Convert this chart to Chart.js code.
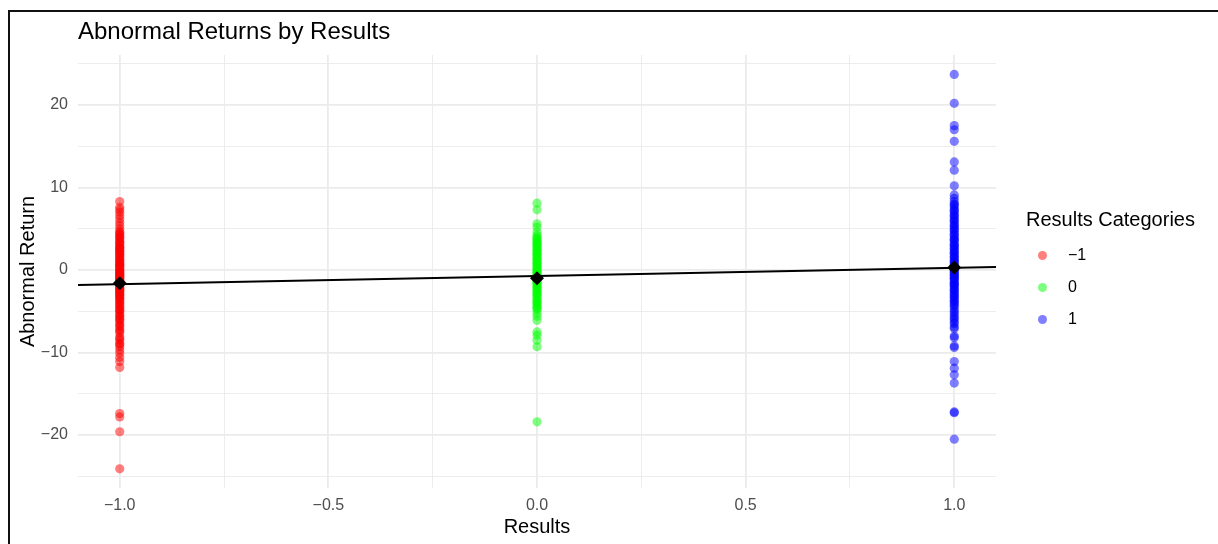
<!DOCTYPE html>
<html>
<head>
<meta charset="utf-8">
<script src="https://cdn.jsdelivr.net/npm/chart.js@4.4.1/dist/chart.umd.min.js"></script>
<style>
  html, body { margin: 0; padding: 0; background: #fff; }
  body { width: 1218px; height: 544px; position: relative; overflow: hidden;
         font-family: "Liberation Sans", Arial, Helvetica, sans-serif; }
  #frame { position: absolute; left: 8px; top: 10px; width: 1400px; height: 800px;
           border-top: 2px solid #111; border-left: 2px solid #111; }
  #chart { position: absolute; left: 0; top: 0; }
  #title { position: absolute; left: 78px; top: 19px; font-size: 24px; line-height: 24px;
           color: #000; white-space: nowrap; }
  #legend { position: absolute; left: 0; top: 0; }
  .leg-title { position: absolute; left: 1026px; top: 209px; font-size: 20px; line-height: 20px;
               color: #000; white-space: nowrap; }
  .leg-row { position: absolute; left: 1038px; height: 16px; display: flex; align-items: center; }
  .leg-dot { width: 9px; height: 9px; border-radius: 50%; margin-right: 21px; }
  .leg-text { font-size: 16px; line-height: 16px; color: #000; }
</style>
</head>
<body>
<div id="frame"></div>
<canvas id="chart" width="1218" height="544"></canvas>
<div id="title">Abnormal Returns by Results</div>
<div id="legend"></div>

<script>
// categories (Results) and their labels in the legend
const categories = [-1, 0, 1];
const categoryLabels = ["\u22121", "0", "1"];
const categoryColors = ["rgba(255,0,0,0.5)", "rgba(0,255,0,0.5)", "rgba(0,0,255,0.5)"];

// abnormal returns
const returnsMinus1 = [
  8.3, 7.6, 7.3, 7.0, 6.6, 6.2, 5.8, 5.4, 5.0,
  4.7, 4.5, 4.2, 4.0, 3.8, 3.5, 3.3, 3.1, 2.9, 2.7, 2.6, 2.4, 2.2, 2.0, 1.8, 1.6, 1.5,
  1.3, 1.1, 0.9, 0.8, 0.7, 0.5, 0.4, 0.3, 0.1, -0.1, -0.2, -0.3, -0.5, -0.6, -0.8, -0.9,
  -1.0, -1.1, -1.2, -1.3, -1.5, -1.6, -1.7, -1.9, -2.1, -2.2, -2.4, -2.5, -2.6, -2.8,
  -3.0, -3.1, -3.3, -3.5, -3.7, -4.0, -4.2, -4.5, -4.8, -5.0, -5.3, -5.6, -5.9, -6.2,
  -6.5, -6.9, -7.2, -7.6, -8.1, -8.5, -8.9, -9.3, -9.7, -10.1, -10.6, -11.1, -11.8,
  -17.4, -17.8, -19.6, -24.1,
  4.4, 3.9, 3.4, 2.8, 2.3, 1.9, 1.2, 0.6, 0.0, -0.4, -0.7, -1.4, -1.8, -2.3, -2.9,
  -3.4, -3.9, -4.4, -4.9, -5.5, -6.0, -6.7, -7.4, -8.3, -9.0
];
const returns0 = [
  8.1, 7.3, 5.6, 5.2, 4.6, 4.2,
  4.0, 3.7, 3.5, 3.2, 3.0, 2.7, 2.5, 2.2, 2.0, 1.8, 1.5, 1.3, 1.0, 0.8, 0.6, 0.3, 0.1,
  -0.1, -0.3, -0.5, -0.7, -0.9, -1.0, -1.2, -1.4, -1.6, -1.8, -2.0, -2.3, -2.5, -2.8,
  -3.0, -3.3, -3.6, -3.9, -4.2, -4.5, -4.8, -5.2, -5.6, -6.1, -7.5, -7.9, -8.5, -9.3,
  -18.4,
  3.8, 3.3, 2.9, 2.4, 1.9, 1.4, 0.9, 0.4, -0.2, -0.6, -1.1, -1.5, -2.1, -2.6, -3.1,
  -3.7, -4.1, -4.6
];
const returns1 = [
  23.7, 20.2, 17.5, 17.0, 15.6, 13.1, 12.1, 10.2, 9.1, 8.7, 8.3,
  8.0, 7.7, 7.4, 7.1, 6.8, 6.5, 6.2, 5.9, 5.6, 5.3, 5.0, 4.7, 4.4, 4.1, 3.8, 3.6, 3.3,
  3.0, 2.8, 2.5, 2.2, 2.0, 1.7, 1.5, 1.2, 1.0, 0.8, 0.5, 0.3, 0.1, -0.1, -0.3, -0.5,
  -0.7, -0.9, -1.1, -1.3, -1.6, -1.8, -2.0, -2.3, -2.5, -2.8, -3.1, -3.4, -3.7, -4.0,
  -4.4, -5.0, -5.5, -6.0, -6.5, -6.9, -8.0, -8.2, -9.2, -9.4, -11.1, -11.9, -12.7,
  -13.7, -17.2, -17.3, -20.5,
  7.9, 7.2, 6.6, 6.0, 5.4, 4.9, 4.3, 3.7, 3.1, 2.6, 2.1, 1.6, 1.1, 0.6, 0.2, -0.2,
  -0.6, -1.0, -1.5, -1.9, -2.4, -2.9, -3.3, -3.8, -4.2, -4.7, -5.2, -5.8, -6.3, -7.1
];
const returnsByCategory = [returnsMinus1, returns0, returns1];

// group means (black diamonds) and the fitted line ends
const meanReturns = [-1.6, -1.0, 0.3];
const fitX = [-1.1, 1.1];
const fitY = [-1.82, 0.36];

// axis ticks (major ones have a label, minor ones only a grid line)
const xTicks = [-1.0, -0.75, -0.5, -0.25, 0.0, 0.25, 0.5, 0.75, 1.0];
const xTickLabels = ["\u22121.0", "", "\u22120.5", "", "0.0", "", "0.5", "", "1.0"];
const yTicks = [-25, -20, -15, -10, -5, 0, 5, 10, 15, 20, 25];
const yTickLabels = ["", "\u221220", "", "\u221210", "", "0", "", "10", "", "20", ""];

document.addEventListener("DOMContentLoaded", function () {
  Chart.defaults.font.family = '"Liberation Sans", Arial, Helvetica, sans-serif';

  const datasets = [];

  // means on top
  datasets.push({
    label: "mean",
    data: categories.map((c, i) => ({ x: c, y: meanReturns[i] })),
    pointStyle: "rectRot",
    pointRadius: 7,
    backgroundColor: "#000",
    borderWidth: 0,
    order: 0,
  });

  // regression line
  datasets.push({
    label: "fit",
    data: fitX.map((x, i) => ({ x: x, y: fitY[i] })),
    showLine: true,
    pointRadius: 0,
    borderColor: "#000",
    borderWidth: 2,
    order: 1,
  });

  // raw points per category
  categories.forEach(function (c, i) {
    datasets.push({
      label: categoryLabels[i],
      data: returnsByCategory[i].map((v) => ({ x: c, y: v })),
      pointRadius: 4.6,
      backgroundColor: categoryColors[i],
      borderWidth: 0,
      order: 2,
    });
  });

  const gridWidth = (labels) => (ctx) => (labels[ctx.index] ? 1.8 : 0.9);

  new Chart(document.getElementById("chart"), {
    type: "scatter",
    data: { datasets: datasets },
    options: {
      responsive: false,
      animation: false,
      devicePixelRatio: 1,
      layout: { padding: { top: 55, right: 222, bottom: 0, left: 0 } },
      plugins: { legend: { display: false }, tooltip: { enabled: false } },
      scales: {
        x: {
          type: "linear",
          min: -1.1,
          max: 1.1,
          afterBuildTicks: (scale) => { scale.ticks = xTicks.map((v) => ({ value: v })); },
          afterFit: (scale) => { scale.height = 56; },
          ticks: {
            autoSkip: false,
            maxRotation: 0,
            padding: 8,
            color: "#4d4d4d",
            font: { size: 16 },
            callback: (v, i) => xTickLabels[i],
          },
          grid: { color: "#ebebeb", lineWidth: gridWidth(xTickLabels), drawTicks: false },
          border: { display: false },
          title: { display: true, text: "Results", color: "#000", font: { size: 20 }, padding: { top: 0, bottom: 5 } },
        },
        y: {
          type: "linear",
          min: -26.42,
          max: 26.06,
          afterBuildTicks: (scale) => { scale.ticks = yTicks.map((v) => ({ value: v })); },
          afterFit: (scale) => { scale.width = 78; },
          ticks: {
            autoSkip: false,
            padding: 10,
            color: "#4d4d4d",
            font: { size: 16 },
            callback: (v, i) => yTickLabels[i],
          },
          grid: { color: "#ebebeb", lineWidth: gridWidth(yTickLabels), drawTicks: false },
          border: { display: false },
          title: { display: true, text: "Abnormal Return", color: "#000", font: { size: 20 }, padding: { top: 16, bottom: 0 } },
        },
      },
    },
  });

  // legend (built from the same categories)
  const legend = document.getElementById("legend");
  const t = document.createElement("div");
  t.className = "leg-title";
  t.textContent = "Results Categories";
  legend.appendChild(t);
  categoryLabels.forEach(function (lab, i) {
    const row = document.createElement("div");
    row.className = "leg-row";
    row.style.top = 247 + i * 32 + "px";
    row.innerHTML = '<span class="leg-dot" style="background:' + categoryColors[i] + '"></span>' +
      '<span class="leg-text">' + lab + "</span>";
    legend.appendChild(row);
  });
});
</script>
</body>
</html>
